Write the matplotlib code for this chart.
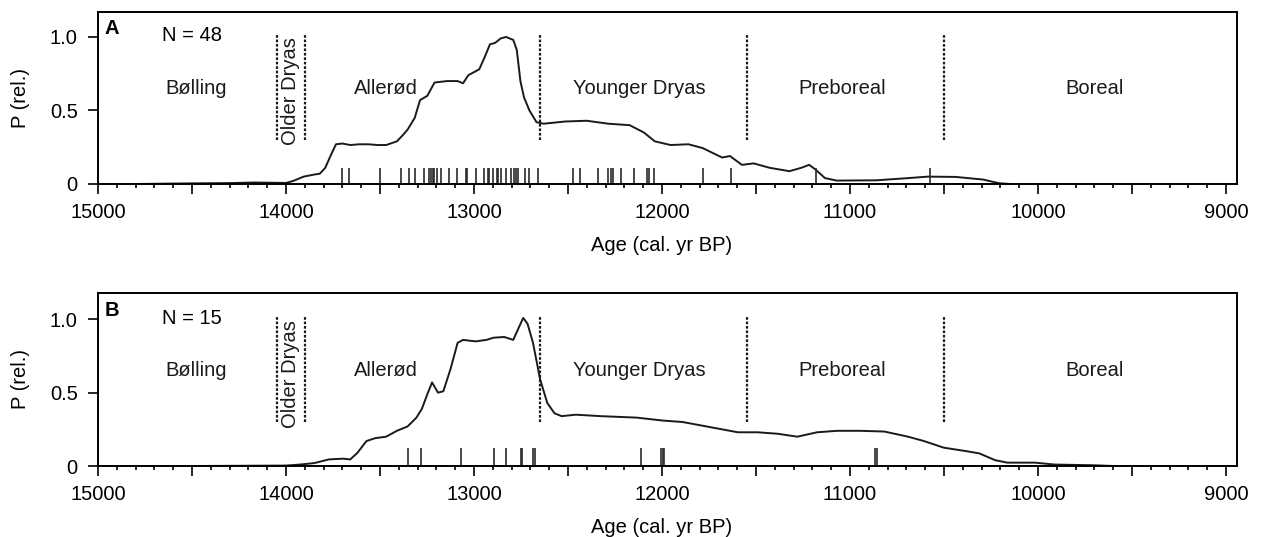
import numpy as np
import matplotlib
matplotlib.use('Agg')
import matplotlib.pyplot as plt
from matplotlib.ticker import MultipleLocator, FuncFormatter

plt.rcParams['font.family'] = ['Liberation Sans', 'DejaVu Sans']
plt.rcParams['font.size'] = 14.5

# panel A - summed probability, N = 48
age_a = [14800, 14500, 14300, 14170, 14000, 13963, 13906, 13850, 13820, 13791, 13760,
         13734, 13700, 13658, 13610, 13563, 13510, 13467, 13410, 13380, 13353, 13315,
         13287, 13248, 13210, 13144, 13087, 13058, 13030, 12972, 12944, 12915, 12887,
         12858, 12829, 12791, 12772, 12753, 12734, 12705, 12667, 12629, 12515, 12400,
         12286, 12172, 12096, 12038, 11954, 11859, 11785, 11680, 11638, 11575, 11512,
         11427, 11322, 11259, 11217, 11185, 11133, 11070, 10859, 10690, 10585, 10438,
         10291, 10207, 10150]
p_a = [0.0, 0.004, 0.006, 0.01, 0.007, 0.02, 0.05, 0.064, 0.07, 0.11, 0.2,
       0.27, 0.275, 0.265, 0.27, 0.27, 0.265, 0.265, 0.29, 0.33, 0.37, 0.45,
       0.57, 0.60, 0.69, 0.70, 0.70, 0.685, 0.74, 0.78, 0.86, 0.95, 0.96,
       0.99, 1.0, 0.98, 0.91, 0.70, 0.59, 0.50, 0.42, 0.41, 0.425, 0.43,
       0.41, 0.40, 0.35, 0.29, 0.265, 0.27, 0.245, 0.18, 0.19, 0.13, 0.14,
       0.11, 0.087, 0.11, 0.13, 0.10, 0.04, 0.023, 0.025, 0.04, 0.05, 0.048,
       0.03, 0.005, 0.0]
dates_a = [13702, 13665, 13498, 13388, 13344, 13312, 13264, 13238, 13229, 13220, 13211,
           13199, 13176, 13131, 13090, 13043, 13037, 12989, 12945, 12927, 12918, 12901,
           12878, 12871, 12856, 12830, 12803, 12789, 12777, 12768, 12727, 12706, 12661,
           12475, 12436, 12339, 12285, 12273, 12259, 12220, 12149, 12078, 12069, 12042,
           11780, 11635, 11183, 10574]

# panel B - summed probability, N = 15
age_b = [14500, 14000, 13925, 13849, 13772, 13696, 13658, 13620, 13572, 13525, 13467,
         13410, 13353, 13306, 13277, 13248, 13223, 13191, 13163, 13125, 13087, 13058,
         12991, 12934, 12896, 12839, 12791, 12763, 12738, 12715, 12686, 12648, 12610,
         12572, 12534, 12458, 12325, 12134, 11996, 11890, 11722, 11596, 11491, 11385,
         11280, 11175, 11070, 10943, 10817, 10691, 10606, 10501, 10375, 10312, 10228,
         10164, 10017, 9912, 9701, 9596]
p_b = [0.0, 0.003, 0.01, 0.02, 0.045, 0.05, 0.045, 0.09, 0.17, 0.19, 0.20,
       0.24, 0.27, 0.33, 0.39, 0.49, 0.57, 0.50, 0.51, 0.66, 0.84, 0.86,
       0.85, 0.86, 0.875, 0.88, 0.86, 0.94, 1.01, 0.97, 0.84, 0.59, 0.43,
       0.36, 0.34, 0.35, 0.34, 0.33, 0.31, 0.30, 0.26, 0.23, 0.23, 0.22,
       0.20, 0.23, 0.24, 0.24, 0.235, 0.20, 0.17, 0.125, 0.10, 0.086, 0.04,
       0.023, 0.023, 0.01, 0.005, 0.0]
dates_b = [13349, 13280, 13067, 12895, 12832, 12749, 12743, 12686, 12678, 12114,
           12003, 11995, 11990, 10867, 10857]

# chronozone boundaries and names
boundaries = [14050, 13900, 12650, 11550, 10500]
zone_names = ['Bølling', 'Allerød', 'Younger Dryas', 'Preboreal', 'Boreal']
zone_centers = [14480, 13470, 12120, 11040, 9700]

panels = [
    ('A', 'N = 48', age_a, p_a, dates_a, 0.11, 1.17),
    ('B', 'N = 15', age_b, p_b, dates_b, 0.12, 1.18),
]
axes_pos = [[0.0777, 0.6574, 0.9033, 0.3203], [0.0777, 0.1322, 0.9033, 0.3222]]

fig = plt.figure(figsize=(12.61, 5.37), dpi=100)

for (letter, ntext, ages, probs, dates, rug_h, ytop), pos in zip(panels, axes_pos):
    ax = fig.add_axes(pos)
    ax.plot(ages, probs, color='#1a1a1a', lw=1.4)
    ax.vlines(dates, 0, rug_h, color='#2a2a2a', lw=1.2)

    for b in boundaries:
        ax.plot([b, b], [0.30, 1.02], color='#1a1a1a', lw=1.6, linestyle=(0, (1.2, 0.8)))

    for name, c in zip(zone_names, zone_centers):
        ax.text(c, 0.65, name, ha='center', va='center', color='#1a1a1a')
    ax.text(13975, 0.63, 'Older Dryas', rotation=90, ha='center', va='center', color='#1a1a1a')

    ax.text(14926, 1.06, letter, ha='center', va='center', fontweight='bold', fontsize=14.5)
    ax.text(14660, 1.007, ntext, ha='left', va='center')

    ax.set_xlim(15000, 8941)
    ax.set_ylim(0, ytop)
    ax.set_xticks(np.arange(9000, 15001, 500))
    ax.xaxis.set_major_formatter(FuncFormatter(lambda v, p: '%d' % v if v % 1000 == 0 else ''))
    ax.xaxis.set_minor_locator(MultipleLocator(100))
    ax.set_yticks([0, 0.5, 1.0])
    ax.set_yticklabels(['0', '0.5', '1.0'])
    ax.tick_params(which='major', direction='out', length=7.5, width=1.2, pad=6)
    ax.tick_params(which='minor', direction='out', length=3.2, width=1.2)
    ax.tick_params(axis='y', pad=7)
    for s in ax.spines.values():
        s.set_linewidth(1.4)

    ax.set_xlabel('Age (cal. yr BP)')
    ax.xaxis.set_label_coords(0.495, -0.30)
    ax.set_ylabel('P (rel.)')
    ax.yaxis.set_label_coords(-0.06, 0.5)

fig.savefig('out.png', dpi=100)
